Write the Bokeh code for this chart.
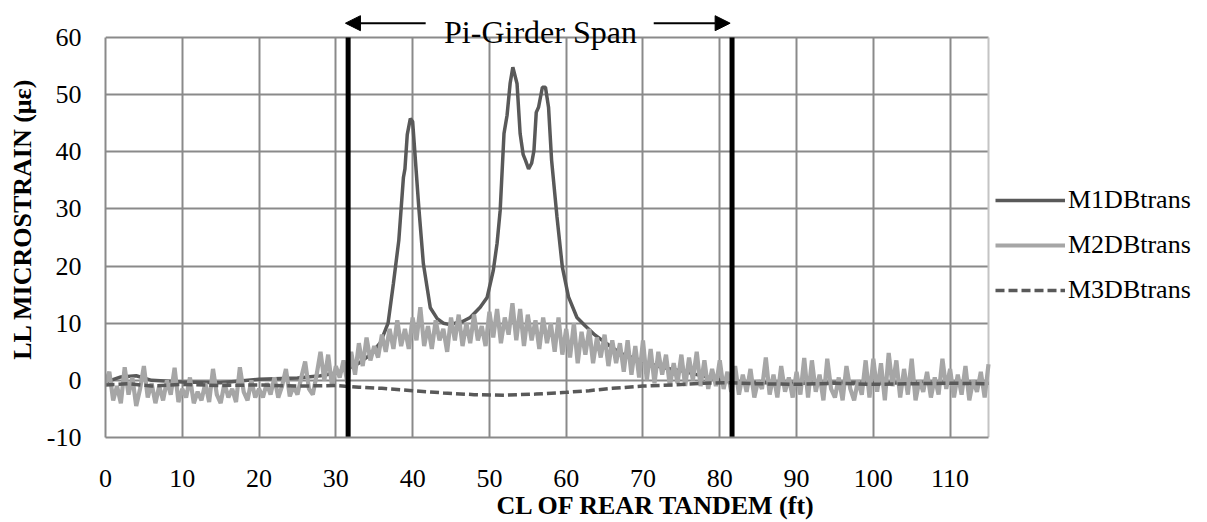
import numpy as np
from bokeh.plotting import figure
from bokeh.models import (Range1d, FixedTicker, Legend, LegendItem, Label,
                          Arrow, NormalHead, Grid)
from bokeh.embed import file_html
from bokeh.resources import INLINE

# ---------------- data ----------------
m1_x = [0, 2, 4, 6, 10, 15, 20, 25, 28, 30, 31.5, 33, 34.5, 35.8, 36.8, 37.5, 38.2,
        38.8, 39.0, 39.3, 39.7, 40.0, 40.8, 41.4, 42.3, 43.2, 44, 44.7, 45.5, 46.5,
        47.5, 48.8, 49.7, 50.5, 51.0, 51.4, 51.9, 52.3, 52.7, 53.05, 53.3, 53.6,
        54.0, 54.4, 54.7, 55.1, 55.5, 55.8, 56.1, 56.4, 56.9, 57.3, 57.7, 58.1,
        58.8, 59.5, 60.3, 61.4, 62.5, 63.6, 65.3, 67.1, 69.7, 72.3, 74.9, 77,
        79.2, 81, 84, 90, 100, 110, 115]
m1_y = [-0.3, 0.6, 0.8, 0, -0.3, -0.4, 0.2, 0.4, 0.8, 1.3, 2.0, 3.0, 4.5, 6.6, 10,
        17, 24.5, 35.5, 37, 43, 45.8, 45.3, 30.3, 20.4, 12.7, 10.8, 10, 9.8, 10,
        10.3, 11, 12.8, 14.5, 19.2, 24, 29.7, 43.2, 46.4, 52, 54.8, 53.5, 51.9,
        43.2, 39.5, 38.5, 37, 38, 40.2, 46.9, 47.8, 51.3, 51.3, 47.8, 38.5, 28.6,
        19.8, 14.6, 11, 9.5, 8.1, 6.4, 4.7, 3.5, 2.3, 1.7, 1.0, 0.3, -0.2, -0.4,
        -0.5, -0.4, -0.5, -0.5]

m2_step = 0.5
m2_y = [
    -0.5, 1.5, -3.5, -1, -4, 2.3, -2.5, 0.5, -4.5, -1.5, 2.5, -3, -0.5, -4, -1, -3.5, 0, -2.5, 2.2, -3.8, -1.5,
    -3, 0.5, -4, -2, -3.5, -0.5, -3.8, 2, -2.5, -4, -0.5, -3, -1.5, -3.8, 2.3, -2, -3.5, 0, -3, -1.5,
    -3, -0.5, -2.5, 0.5, -3, -1, 2, -2.8, -1, -2.5, 0.5, 3.3, -1.5, -2.5, 1, 5, 0, 4.5, -1, 2.5,
    0.5, 3.5, -0.5, 5, 1, 6.5, 2.5, 7.5, 3.5, 6, 4, 8, 5, 9, 5.5, 10.5, 6, 9, 5.5, 11,
    7, 12.8, 6, 9.5, 5.5, 10.5, 7, 9, 5, 11, 7, 11.5, 6, 10, 6.5, 11.5, 7, 9.5, 6, 12,
    7.5, 12.5, 6.5, 11, 8, 13.5, 7, 12.5, 6, 11.5, 7, 10.5, 5.5, 11, 6.5, 10, 5, 11, 4.5, 9,
    4, 10, 3, 8.5, 4.5, 9, 3, 7.5, 4, 8, 2.5, 7, 3, 6.5, 1.5, 7, 1, 6, 0.5, 7,
    0, 5.5, -0.5, 5, 1, 4.5, -1, 3, -0.5, 4.5, -1, 4, 0, 5, -1, 3.5, -1.5, 2, -1, 3.5,
    -1.5, 1.5, -2, 2.5, -2.5, 1, -2, 2, -3, 0, -1.5, 4, -2.5, 1, -3, 2.5, -2, 0.5, -3, 1.5,
    -2.5, 3.9, -3, 3.5, -2, 1, -3.5, 3.8, -1.5, -3, 0.5, -3.5, 2.5, -1.5, -3.5, 0, -2.5, 3.5, -3, 3.8,
    -2, 3, -3.5, 4.8, -1, 3.5, -3, 2, -2.5, 3.8, -3.5, 0, -2, 1.5, -3, 0.5, -2.5, 3.8, -1.5, 2,
    -3, 1, -2.5, 2.5, -3.5, 0, -2, 1.5, -3, 2.8]
m2_x = list(np.arange(len(m2_y)) * m2_step)

m3_x = [0, 3, 6, 10, 15, 20, 25, 30, 33, 36, 40, 44, 48, 52, 56, 60, 63, 66, 70,
        74, 78, 81, 85, 90, 95, 100, 105, 110, 115]
m3_y = [-0.8, -0.6, -1.0, -0.7, -0.9, -0.8, -1.0, -0.9, -1.2, -1.4, -1.8, -2.2,
        -2.5, -2.6, -2.4, -2.1, -1.8, -1.4, -1.0, -0.8, -0.5, -0.4, -0.6, -0.7,
        -0.5, -0.7, -0.6, -0.5, -0.6]

series_names = ["M1DBtrans", "M2DBtrans", "M3DBtrans"]
span_edges = [31.6, 81.6]          # pi-girder span limits (ft)
span_arrow_tails = [41.7, 71.4]    # where the span arrows start (ft)
x_ticks = [0, 10, 20, 30, 40, 50, 60, 70, 80, 90, 100, 110]
y_ticks = [-10, 0, 10, 20, 30, 40, 50, 60]
x_lim = (0, 115)
y_lim = (-10, 60)
annot_text = "Pi-Girder Span"
x_title = "CL OF REAR TANDEM (ft)"
y_title = "LL MICROSTRAIN (\u03bc\u03b5)"

FONT = "Liberation Serif"
DARK = "#595959"
LIGHT = "#a6a6a6"
GRID = "#8a8a8a"

W, H = 1207, 522
LEFT, BOTTOM = 105, 85
PX_X = 883 / (x_lim[1] - x_lim[0])       # pixels per ft
PX_Y = 400 / (y_lim[1] - y_lim[0])       # pixels per microstrain
frame_w, frame_h = W - LEFT, H - BOTTOM
xr = Range1d(x_lim[0], x_lim[0] + frame_w / PX_X)
yr = Range1d(y_lim[0], y_lim[0] + frame_h / PX_Y)

p = figure(width=W, height=H, min_border_left=LEFT, min_border_right=0,
           min_border_top=0, min_border_bottom=BOTTOM,
           x_range=xr, y_range=yr,
           output_backend="svg", toolbar_location=None, title=None)
p.background_fill_color = "white"
p.border_fill_color = "white"
p.outline_line_color = None

for g in (p.xgrid, p.ygrid):
    g.grid_line_color = GRID
    g.grid_line_width = 2
p.xgrid.ticker = FixedTicker(ticks=x_ticks)
p.ygrid.ticker = FixedTicker(ticks=y_ticks)
p.xgrid.bounds = x_lim
p.ygrid.bounds = y_lim
p.xgrid.cross_bounds = y_lim
p.ygrid.cross_bounds = x_lim
# right edge of the plot area
p.add_layout(Grid(dimension=0, ticker=FixedTicker(ticks=[x_lim[1]]), bounds=x_lim,
                  cross_bounds=y_lim, grid_line_color="#c4c4c4", grid_line_width=2))

for ax in (p.xaxis[0], p.yaxis[0]):
    ax.axis_line_color = GRID
    ax.axis_line_width = 2
    ax.major_tick_line_color = None
    ax.minor_tick_line_color = None
    ax.major_tick_out = 0
    ax.major_tick_in = 0
    ax.major_label_text_font = FONT
    ax.major_label_text_font_size = "26px"
    ax.major_label_text_color = "black"
    ax.axis_label_text_font = FONT
    ax.axis_label_text_font_size = "26px"
    ax.axis_label_text_font_style = "bold"
    ax.axis_label_text_color = "black"
p.xaxis[0].ticker = FixedTicker(ticks=x_ticks)
p.yaxis[0].ticker = FixedTicker(ticks=y_ticks)
p.xaxis[0].bounds = x_lim
p.yaxis[0].bounds = y_lim
p.xaxis[0].major_label_overrides = {t: str(t) for t in x_ticks}
p.yaxis[0].major_label_overrides = {t: str(t) for t in y_ticks}
p.xaxis[0].major_label_standoff = 32
p.yaxis[0].major_label_standoff = 24
p.xaxis[0].axis_label = x_title
p.xaxis[0].axis_label_standoff = 1
p.yaxis[0].axis_label = y_title
p.yaxis[0].axis_label_standoff = 7

r1 = p.line(m1_x, m1_y, line_color=DARK, line_width=3.5)
r2 = p.line(m2_x, m2_y, line_color=LIGHT, line_width=4.2)
r3 = p.line(m3_x, m3_y, line_color=DARK, line_width=3.5, line_dash="9 4")

# pi-girder span limits
p.segment(x0=span_edges, y0=[y_lim[1]] * 2, x1=span_edges, y1=[y_lim[0]] * 2,
          line_color="black", line_width=5)

# span annotation above the plot area
text_base_y = y_lim[1] + 5.3 / PX_Y
arrow_y = y_lim[1] + 14.3 / PX_Y
p.add_layout(Label(x=56.65, y=text_base_y, text=annot_text, text_font=FONT,
                   text_font_size="32px", text_align="center",
                   text_baseline="alphabetic", text_color="black"))
for tail, tip in zip(span_arrow_tails, span_edges):
    p.add_layout(Arrow(x_start=tail, y_start=arrow_y, x_end=tip - 0.35 if tip < tail else tip - 0.25,
                       y_end=arrow_y, line_color="black", line_width=2,
                       end=NormalHead(size=15, fill_color="black", line_color="black",
                                      line_width=1)))

legend = Legend(items=[LegendItem(label=series_names[0], renderers=[r1]),
                       LegendItem(label=series_names[1], renderers=[r2]),
                       LegendItem(label=series_names[2], renderers=[r3])],
                location=(890, 132), orientation="vertical",
                label_text_font=FONT, label_text_font_size="26px", label_text_color="black",
                glyph_width=70, glyph_height=30, label_height=30, spacing=15,
                label_standoff=3, padding=0, margin=0,
                border_line_color=None, background_fill_alpha=0)
p.add_layout(legend, "center")

open("out.html", "w").write(file_html(p, INLINE))
